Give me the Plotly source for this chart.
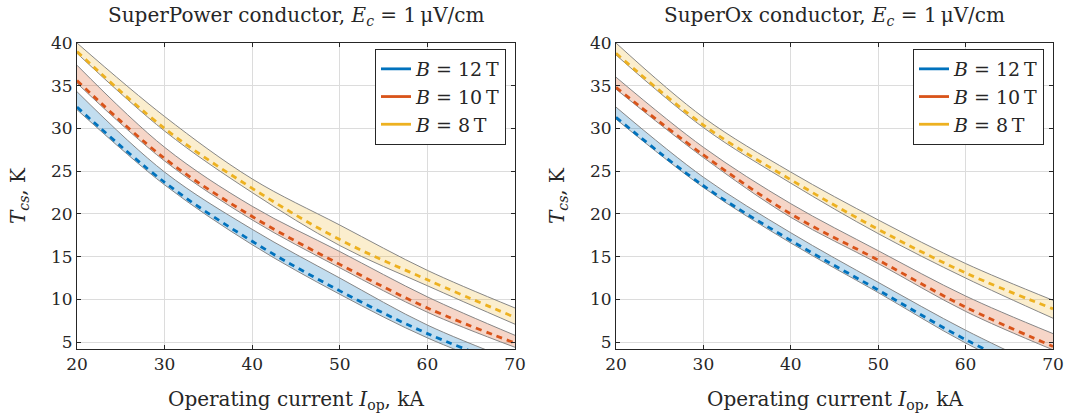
import plotly.graph_objects as go

# Operating current grid, kA
current_ka = [20, 30, 40, 50, 60, 70]

# SuperPower conductor: current-sharing temperature, K (band edges and model curve)
sp_b12_upper = [34.3, 24.9, 18.2, 12.5, 7.0, 2.8]
sp_b12_model = [32.5, 23.7, 16.8, 11.0, 6.0, 2.0]
sp_b12_lower = [32.2, 23.4, 16.4, 10.6, 5.5, 1.5]
sp_b10_upper = [37.4, 27.8, 20.9, 15.6, 10.3, 5.8]
sp_b10_model = [35.6, 26.5, 19.7, 14.1, 9.0, 4.9]
sp_b10_lower = [35.3, 26.2, 19.3, 13.7, 8.5, 4.4]
sp_b8_upper = [40.0, 31.4, 24.1, 18.7, 13.4, 9.0]
sp_b8_model = [39.0, 30.0, 23.0, 17.0, 12.3, 7.9]
sp_b8_lower = [38.8, 29.7, 22.5, 16.3, 11.6, 7.1]

# SuperOx conductor
so_b12_upper = [32.5, 24.3, 17.8, 12.0, 6.4, 1.5]
so_b12_model = [31.3, 23.3, 16.9, 11.1, 5.3, 0.5]
so_b12_lower = [31.1, 23.1, 16.6, 10.8, 4.9, 0.0]
so_b10_upper = [36.0, 27.8, 21.2, 15.7, 10.4, 6.0]
so_b10_model = [34.8, 26.9, 20.0, 14.6, 9.1, 4.5]
so_b10_lower = [34.6, 26.6, 19.6, 14.2, 8.6, 4.1]
so_b8_upper = [40.0, 31.3, 24.9, 19.3, 14.2, 9.9]
so_b8_model = [38.8, 30.4, 24.0, 18.2, 13.1, 8.9]
so_b8_lower = [38.6, 30.1, 23.6, 17.7, 12.5, 7.8]

field_labels = ["<i>B</i> = 12\u2009T", "<i>B</i> = 10\u2009T", "<i>B</i> = 8\u2009T"]
panel_titles = ["SuperPower conductor, <i>E<sub>c</sub></i> = 1\u2009μV/cm",
                "SuperOx conductor, <i>E<sub>c</sub></i> = 1\u2009μV/cm"]
x_title = "Operating current <i>I</i><sub>op</sub>, kA"
y_title = "<i>T<sub>cs</sub></i>, K"

x_ticks = [20, 30, 40, 50, 60, 70]
y_ticks = [5, 10, 15, 20, 25, 30, 35, 40]

colors = ["#0072BD", "#D95319", "#EDB120"]
fills = ["rgba(0,114,189,0.24)", "rgba(217,83,25,0.24)", "rgba(237,177,32,0.22)"]
edge = "rgb(135,135,135)"
FONT = "DejaVu Serif"
W, H = 1072, 418

panels = [
    dict(data=[(sp_b12_lower, sp_b12_upper, sp_b12_model),
               (sp_b10_lower, sp_b10_upper, sp_b10_model),
               (sp_b8_lower, sp_b8_upper, sp_b8_model)],
         xa="x", ya="y", legend="legend", px=(77, 515)),
    dict(data=[(so_b12_lower, so_b12_upper, so_b12_model),
               (so_b10_lower, so_b10_upper, so_b10_model),
               (so_b8_lower, so_b8_upper, so_b8_model)],
         xa="x2", ya="y2", legend="legend2", px=(616, 1053)),
]

fig = go.Figure()
for p in panels:
    # shaded bands
    for (lo, up, _), fc in zip(p["data"], fills):
        fig.add_trace(go.Scatter(x=current_ka, y=lo, mode="lines", line=dict(color=edge, width=1, shape="spline"),
                                 xaxis=p["xa"], yaxis=p["ya"], showlegend=False, hoverinfo="skip"))
        fig.add_trace(go.Scatter(x=current_ka, y=up, mode="lines", line=dict(color=edge, width=1, shape="spline"),
                                 fill="tonexty", fillcolor=fc,
                                 xaxis=p["xa"], yaxis=p["ya"], showlegend=False, hoverinfo="skip"))
    # model curves
    for (_, _, md), c in zip(p["data"], colors):
        fig.add_trace(go.Scatter(x=current_ka, y=md, mode="lines",
                                 line=dict(color=c, width=2.8, dash="6px,5px", shape="spline"),
                                 xaxis=p["xa"], yaxis=p["ya"], showlegend=False))
    # legend entries
    for lab, c in zip(field_labels, colors):
        fig.add_trace(go.Scatter(x=[None], y=[None], mode="lines", line=dict(color=c, width=2.8),
                                 name=lab, xaxis=p["xa"], yaxis=p["ya"], legend=p["legend"]))

plot_top, plot_bot = 43, 349
ydom = [1 - plot_bot / H, 1 - plot_top / H]

axis_common = dict(showgrid=True, gridcolor="#dcdcdc", gridwidth=1, zeroline=False,
                   showline=True, linecolor="#262626", linewidth=1, mirror="allticks",
                   ticks="inside", ticklen=4, tickcolor="#262626",
                   tickfont=dict(family=FONT, size=17, color="#262626"), automargin=False)

layout = dict(width=W, height=H, margin=dict(l=0, r=0, t=0, b=0),
              plot_bgcolor="white", paper_bgcolor="white", showlegend=True)

annotations = []
for i, p in enumerate(panels):
    sfx = "" if i == 0 else "2"
    x0, x1 = p["px"]
    layout["xaxis" + sfx] = dict(axis_common, domain=[x0 / W, x1 / W], range=[20, 70],
                                 tickvals=x_ticks, anchor="y" + sfx)
    layout["yaxis" + sfx] = dict(axis_common, domain=ydom, range=[4.2, 40],
                                 tickvals=y_ticks, anchor="x" + sfx)
    layout["legend" + sfx] = dict(x=(x1 - 9) / W, xanchor="right", y=1 - 49 / H, yanchor="top",
                                  bgcolor="white", bordercolor="#262626", borderwidth=1,
                                  font=dict(family=FONT, size=19, color="#262626"),
                                  traceorder="normal", tracegroupgap=0)
    cx = (x0 + x1) / 2 / W
    annotations.append(dict(text=panel_titles[i], x=cx, y=1 - 16 / H, xref="paper", yref="paper",
                            xanchor="center", yanchor="middle", showarrow=False,
                            font=dict(family=FONT, size=20, color="#262626")))
    annotations.append(dict(text=x_title, x=cx, y=1 - 400 / H, xref="paper", yref="paper",
                            xanchor="center", yanchor="middle", showarrow=False,
                            font=dict(family=FONT, size=20, color="#262626")))
    annotations.append(dict(text=y_title, x=(x0 - 58) / W, y=(ydom[0] + ydom[1]) / 2,
                            xref="paper", yref="paper", xanchor="center", yanchor="middle",
                            textangle=-90, showarrow=False,
                            font=dict(family=FONT, size=20, color="#262626")))

layout["annotations"] = annotations
fig.update_layout(**layout)
fig.write_html("out.html")
